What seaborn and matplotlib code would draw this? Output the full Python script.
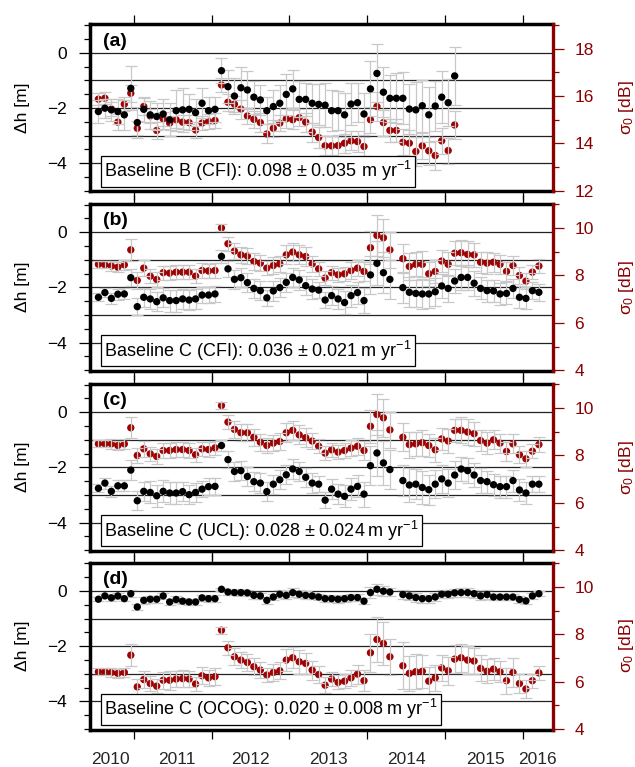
import numpy as np
import pandas as pd
import matplotlib
matplotlib.use("Agg")
import matplotlib.pyplot as plt
import seaborn as sns
from matplotlib.ticker import MultipleLocator, FixedLocator, FixedFormatter

sns.set_theme(style="white")
plt.rcParams["font.family"] = ["Liberation Sans", "DejaVu Sans"]
plt.rcParams["mathtext.fontset"] = "custom"
plt.rcParams["mathtext.rm"] = "Liberation Sans"
plt.rcParams["mathtext.it"] = "Liberation Sans:italic"
plt.rcParams["mathtext.bf"] = "Liberation Sans:bold"
plt.rcParams["text.color"] = "black"
plt.rcParams["axes.labelcolor"] = "black"

# ---------------- data ----------------
months_a = [str(p) for p in pd.period_range("2010-07", "2015-02", freq="M")]
months_bcd = [str(p) for p in pd.period_range("2010-07", "2016-03", freq="M") if str(p) != "2014-05"]

year_labels = ["2010", "2011", "2012", "2013", "2014", "2015", "2016"]

a_dh = [-2.13,-2.01,-2.07,-2.13,-2.25,-1.29,-2.53,-2.05,-2.25,-2.31,-2.22,-2.43,-2.10,-2.07,-2.05,-2.17,-1.83,-2.10,-2.05,-0.65,
        -1.23,-1.57,-1.27,-1.35,-1.61,-1.71,-2.10,-1.95,-1.83,-1.51,-1.31,-1.69,-1.69,-1.83,-1.87,-1.90,-2.10,-2.10,-2.25,-1.86,
        -1.81,-2.22,-1.31,-0.75,-1.43,-1.65,-1.65,-1.65,-2.04,-2.07,-1.92,-2.25,-1.93,-1.61,-1.81,-0.84]
a_sig = [15.87,15.91,15.45,14.90,15.66,16.12,14.64,15.56,15.16,14.55,15.04,14.86,15.00,14.90,14.88,14.57,14.86,14.93,14.97,16.47,
         15.74,15.66,15.45,15.16,15.02,14.88,14.40,14.64,14.86,15.04,15.00,15.09,14.90,14.48,14.25,13.90,13.90,13.91,14.01,14.11,
         14.08,13.87,15.00,15.56,14.88,14.55,14.55,14.05,14.01,13.66,13.90,13.69,13.49,14.11,13.70,14.78]
a_dh_err = [0.40,0.35,0.40,0.45,0.55,0.80,0.55,0.45,0.50,0.50,0.55,0.60,0.75,0.80,0.55,0.50,0.55,0.50,0.45,
            0.45,0.60,0.65,0.75,0.70,0.60,0.55,0.50,0.60,0.65,0.75,0.70,0.65,0.60,0.70,0.75,0.80,0.75,0.70,0.80,0.75,0.70,0.75,
            1.00,1.05,0.90,0.85,0.90,0.95,0.90,1.00,0.95,1.00,0.90,0.95,0.85,1.05]
a_sig_err = [0.25,0.25,0.30,0.35,0.30,0.35,0.30,0.35,0.30,0.35,0.30,0.30,0.35,0.30,0.30,0.35,0.30,0.30,0.30,
             0.30,0.35,0.35,0.40,0.35,0.35,0.40,0.40,0.35,0.35,0.40,0.40,0.35,0.40,0.40,0.45,0.40,0.40,0.45,0.40,0.40,0.45,0.40,
             0.55,0.60,0.55,0.50,0.50,0.55,0.55,0.60,0.55,0.60,0.60,0.55,0.55,0.60]

b_dh = [-2.36,-2.19,-2.40,-2.25,-2.24,-1.65,-2.70,-2.36,-2.42,-2.52,-2.38,-2.48,-2.48,-2.42,-2.46,-2.42,-2.28,-2.28,-2.24,-0.88,
        -1.33,-1.71,-1.65,-1.83,-2.04,-2.12,-2.38,-2.13,-2.01,-1.82,-1.64,-1.73,-1.94,-2.06,-2.10,-2.46,-2.30,-2.42,-2.55,-2.30,
        -2.19,-2.48,-1.55,-1.13,-1.47,-1.71,-2.01,-2.18,-2.22,-2.24,-2.24,-2.16,-1.95,-2.04,-1.77,-1.64,-1.64,-1.85,-2.04,-2.12,
        -2.13,-2.24,-2.22,-2.04,-2.36,-2.40,-2.12,-2.18]
b_sig = [8.47,8.45,8.40,8.35,8.45,9.08,7.79,8.31,7.97,7.83,8.12,8.10,8.14,8.14,8.14,7.97,8.21,8.19,8.21,10.01,
         9.34,9.03,8.87,8.82,8.59,8.52,8.31,8.42,8.49,8.87,8.99,8.87,8.80,8.49,8.28,7.89,8.12,8.03,8.07,8.21,
         8.31,8.17,9.17,9.69,9.59,9.08,8.71,8.38,8.47,8.47,8.07,8.17,8.61,8.47,8.94,8.96,8.89,8.87,8.56,8.52,
         8.56,8.47,8.17,8.42,8.00,7.76,8.14,8.40]
b_dh_err = [0.15,0.15,0.20,0.20,0.20,0.30,0.30,0.35,0.35,0.35,0.35,0.40,0.40,0.35,0.35,0.35,0.30,0.30,0.30,
            0.25,0.30,0.35,0.35,0.35,0.35,0.35,0.30,0.35,0.35,0.35,0.35,0.35,0.35,0.35,0.30,0.30,0.35,0.35,0.40,0.40,0.40,0.45,
            0.70,0.80,0.75,0.70,
            0.55,0.55,0.50,0.55,0.50,0.50,0.45,0.50,0.45,0.45,0.45,0.45,0.40,0.40,0.40,0.40,0.40,0.35,0.40,0.40,0.30,0.30]
b_sig_err = [0.15,0.15,0.20,0.20,0.20,0.45,0.35,0.35,0.30,0.30,0.30,0.30,0.30,0.30,0.30,0.30,0.30,0.30,0.30,
             0.15,0.30,0.35,0.35,0.35,0.35,0.35,0.30,0.35,0.35,0.40,0.40,0.40,0.40,0.35,0.30,0.30,0.30,0.30,0.30,0.35,0.35,0.40,
             0.70,0.85,0.80,0.75,
             0.60,0.55,0.50,0.55,0.50,0.50,0.45,0.50,0.50,0.55,0.55,0.50,0.45,0.45,0.40,0.40,0.40,0.40,0.35,0.35,0.30,0.30]

c_dh = [-2.76,-2.57,-2.87,-2.67,-2.67,-2.10,-3.21,-2.87,-2.91,-3.03,-2.87,-2.93,-2.93,-2.88,-2.99,-2.91,-2.79,-2.70,-2.69,-1.21,
        -1.72,-2.15,-2.12,-2.33,-2.52,-2.57,-2.88,-2.61,-2.45,-2.27,-2.06,-2.15,-2.36,-2.57,-2.61,-3.19,-2.79,-2.97,-3.05,-2.79,
        -2.69,-2.97,-1.94,-1.48,-1.84,-2.08,-2.48,-2.64,-2.61,-2.73,-2.81,-2.61,-2.42,-2.57,-2.28,-2.06,-2.12,-2.28,-2.48,-2.52,
        -2.63,-2.70,-2.70,-2.48,-2.82,-2.93,-2.61,-2.61]
c_sig = [8.49,8.49,8.49,8.42,8.49,9.17,8.00,8.28,8.07,7.96,8.21,8.21,8.25,8.25,8.21,8.03,8.28,8.25,8.32,10.11,
         9.41,9.10,8.96,8.96,8.77,8.56,8.42,8.52,8.59,8.96,9.06,8.87,8.75,8.61,8.39,8.10,8.24,8.14,8.21,8.31,
         8.39,8.21,9.23,9.73,9.59,9.08,8.77,8.46,8.49,8.54,8.42,8.24,8.70,8.61,9.06,9.06,8.99,8.92,8.63,8.52,
         8.66,8.52,8.17,8.49,8.03,7.86,8.18,8.46]
c_dh_err = [0.15,0.20,0.20,0.20,0.20,0.35,0.35,0.35,0.40,0.40,0.40,0.40,0.40,0.35,0.35,0.35,0.30,0.30,0.30,
            0.20,0.30,0.35,0.35,0.35,0.35,0.35,0.35,0.35,0.35,0.35,0.35,0.35,0.35,0.35,0.30,0.30,0.35,0.35,0.40,0.40,0.40,0.45,
            0.70,0.85,0.80,0.70,
            0.55,0.60,0.55,0.60,0.55,0.50,0.50,0.50,0.50,0.45,0.45,0.45,0.45,0.40,0.40,0.40,0.40,0.40,0.40,0.40,0.30,0.30]
c_sig_err = [0.15,0.15,0.20,0.20,0.20,0.45,0.30,0.35,0.30,0.30,0.30,0.30,0.30,0.30,0.30,0.30,0.30,0.30,0.30,
             0.15,0.30,0.35,0.35,0.35,0.35,0.35,0.30,0.35,0.35,0.40,0.40,0.40,0.40,0.35,0.30,0.30,0.30,0.30,0.30,0.35,0.35,0.40,
             0.70,0.85,0.80,0.75,
             0.60,0.55,0.50,0.55,0.50,0.50,0.45,0.50,0.50,0.55,0.55,0.50,0.45,0.45,0.40,0.40,0.40,0.40,0.35,0.35,0.30,0.30]

d_dh = [-0.30,-0.18,-0.25,-0.18,-0.28,-0.10,-0.58,-0.34,-0.30,-0.30,-0.18,-0.40,-0.31,-0.37,-0.40,-0.40,-0.25,-0.28,-0.28,0.06,
        -0.04,-0.06,-0.06,-0.07,-0.16,-0.18,-0.34,-0.22,-0.12,-0.16,-0.06,-0.12,-0.16,-0.18,-0.22,-0.28,-0.28,-0.30,-0.28,-0.24,
        -0.24,-0.37,-0.06,0.06,-0.01,-0.04,-0.13,-0.18,-0.24,-0.28,-0.28,-0.22,-0.12,-0.12,-0.07,-0.06,-0.06,-0.10,-0.18,-0.13,
        -0.22,-0.22,-0.22,-0.22,-0.31,-0.36,-0.18,-0.10]
d_sig = [6.42,6.42,6.39,6.35,6.39,7.12,5.78,6.09,5.92,5.81,6.06,6.06,6.11,6.13,6.11,5.90,6.25,6.16,6.21,8.17,
         7.43,7.05,6.91,6.81,6.63,6.49,6.28,6.39,6.46,6.91,7.01,6.84,6.77,6.49,6.30,5.85,6.11,5.97,6.02,6.16,
         6.32,6.04,7.22,7.78,7.61,7.05,6.67,6.35,6.42,6.44,6.02,6.16,6.58,6.46,6.95,7.01,6.91,6.87,6.56,6.44,
         6.53,6.42,6.04,6.39,5.92,5.69,6.04,6.37]
d_dh_err = [0.08,0.08,0.10,0.10,0.10,0.12,0.12,0.12,0.12,0.12,0.12,0.12,0.12,0.12,0.12,0.12,0.12,0.12,0.12,
            0.06,0.10,0.10,0.12,0.12,0.12,0.12,0.12,0.12,0.15,0.15,0.15,0.15,0.15,0.12,0.12,0.12,0.12,0.12,0.12,0.12,0.12,0.12,
            0.20,0.20,0.18,0.15,
            0.15,0.15,0.15,0.15,0.15,0.15,0.15,0.15,0.15,0.15,0.15,0.15,0.15,0.15,0.12,0.12,0.12,0.12,0.12,0.12,0.10,0.10]
d_sig_err = [0.15,0.15,0.20,0.20,0.20,0.45,0.35,0.35,0.30,0.30,0.35,0.40,0.35,0.35,0.35,0.30,0.35,0.35,0.35,
             0.15,0.30,0.35,0.35,0.35,0.35,0.35,0.30,0.35,0.35,0.45,0.45,0.50,0.45,0.40,0.35,0.35,0.30,0.30,0.30,0.35,0.40,0.45,
             0.80,0.95,0.90,0.75,
             1.00,0.75,0.75,0.70,0.60,0.55,0.55,0.60,0.60,0.60,0.60,0.55,0.55,0.50,0.45,0.45,0.55,0.60,0.40,0.40,0.30,0.30]

panel_tags = ["(a)", "(b)", "(c)", "(d)"]
panel_texts = ["Baseline B (CFI): 0.098 \u00b1 0.035 m yr$^{-1}$",
               "Baseline C (CFI): 0.036 \u00b1 0.021\u2009m yr$^{-1}$",
               "Baseline C (UCL): 0.028 \u00b1 0.024\u2009m yr$^{-1}$",
               "Baseline C (OCOG): 0.020 \u00b1 0.008\u2009m yr$^{-1}$"]


def dec_year(ms):
    out = []
    for m in ms:
        y, mo = m.split("-")
        out.append(int(y) + (int(mo) - 0.5) / 12.0)
    return out


panels = [
    (dec_year(months_a), a_dh, a_dh_err, a_sig, a_sig_err, (11.98, 19.03)),
    (dec_year(months_bcd), b_dh, b_dh_err, b_sig, b_sig_err, (3.98, 11.03)),
    (dec_year(months_bcd), c_dh, c_dh_err, c_sig, c_sig_err, (3.98, 11.03)),
    (dec_year(months_bcd), d_dh, d_dh_err, d_sig, d_sig_err, (3.98, 11.03)),
]

# ---------------- figure ----------------
W, H = 635, 767
fig = plt.figure(figsize=(W / 100, H / 100), dpi=100)
fig.patch.set_facecolor("white")
DRED = "#8b0000"
PRED = "#a00000"
GRAY = "#c8c8c8"
tops = [24.3, 203.7, 383.7, 562.5]
PH = 167.0
X0, PW = 89.5, 463.5
label_pos = [2010.69, 2011.55, 2012.5, 2013.5, 2014.51, 2015.52, 2016.19]
FS = 12.5

for i, (x, dh, dherr, sig, sigerr, rlim) in enumerate(panels):
    ax = fig.add_axes([X0 / W, 1 - (tops[i] + PH) / H, PW / W, PH / H])
    ax.set_facecolor("white")
    ax2 = ax.twinx()
    ax.set_xlim(2010.427, 2016.39)
    ax.set_ylim(-5.02, 1.03)
    ax2.set_ylim(*rlim)
    rt = ax2.transData

    for v in [0, -1, -2, -3, -4]:
        ax.axhline(v, color="#222222", lw=0.9, zorder=0.5)

    # red points first (right-axis scale), then grey error bars, then black points
    sns.scatterplot(x=x, y=sig, ax=ax, color=PRED, s=28, edgecolor="none",
                    linewidth=0, zorder=1.5, legend=False, transform=rt)
    ax.errorbar(x, sig, yerr=sigerr, fmt="none", ecolor=GRAY, elinewidth=0.9,
                capsize=4.5, capthick=0.9, zorder=2, transform=rt)
    ax.errorbar(x, dh, yerr=dherr, fmt="none", ecolor=GRAY, elinewidth=0.9,
                capsize=4.5, capthick=0.9, zorder=2)
    sns.scatterplot(x=x, y=dh, ax=ax, color="black", s=28, edgecolor="none",
                    linewidth=0, zorder=3, legend=False)

    ax.set_xlim(2010.427, 2016.39)
    ax.set_ylim(-5.02, 1.03)
    ax2.set_ylim(*rlim)

    # left axis
    ax.yaxis.set_major_locator(FixedLocator([-4, -2, 0]))
    ax.yaxis.set_minor_locator(MultipleLocator(0.5))
    ax.tick_params(axis="y", which="major", direction="out", length=8, width=0.9,
                   labelsize=FS, pad=8.5, left=True, right=False, colors="black")
    ax.tick_params(axis="y", which="minor", direction="out", length=4.5, width=0.9,
                   left=True, right=False, colors="black")
    ax.set_ylabel("\u0394h [m]", fontsize=FS)
    ax.yaxis.set_label_coords(-0.129, 0.5)

    # x axis
    ax.xaxis.set_major_locator(FixedLocator([2011, 2012, 2013, 2014, 2015, 2016]))
    ax.xaxis.set_minor_locator(FixedLocator(label_pos))
    ax.xaxis.set_minor_formatter(FixedFormatter(year_labels))
    ax.tick_params(axis="x", which="major", direction="out", length=6.5, width=0.9,
                   top=True, bottom=True, labelbottom=False, labeltop=False, colors="black")
    ax.tick_params(axis="x", which="minor", length=0, top=False, bottom=True,
                   labelbottom=(i == 3), labelsize=FS, pad=16)
    ax.set_xlabel("")

    # right axis
    ax2.yaxis.set_major_locator(MultipleLocator(2))
    ax2.yaxis.set_minor_locator(MultipleLocator(1))
    ax2.tick_params(axis="y", which="major", direction="out", length=8, width=0.9,
                    color=DRED, labelcolor=DRED, labelsize=FS, pad=7.5)
    ax2.tick_params(axis="y", which="minor", direction="out", length=4, width=0.9,
                    color=DRED)
    ax2.set_ylabel("\u03c3$_0$ [dB]", color=DRED, fontsize=FS)
    ax2.yaxis.set_label_coords(1.138, 0.5)

    for s in ["left", "top", "bottom"]:
        ax.spines[s].set_visible(True)
        ax.spines[s].set_color("black")
        ax.spines[s].set_linewidth(2.5)
    ax.spines["right"].set_visible(False)
    for s in ["left", "top", "bottom"]:
        ax2.spines[s].set_visible(False)
    ax2.spines["right"].set_visible(True)
    ax2.spines["right"].set_color(DRED)
    ax2.spines["right"].set_linewidth(2.4)

    ax.text(0.029, 0.95, panel_tags[i], transform=ax.transAxes, fontsize=14,
            fontweight="bold", va="top", ha="left", zorder=5)
    ax.text(0.031, 0.048, panel_texts[i], transform=ax.transAxes, fontsize=13,
            va="bottom", ha="left", zorder=6,
            bbox=dict(boxstyle="square,pad=0.18", fc="white", ec="black", lw=0.9))

fig.savefig("out.png", dpi=100, facecolor="white")
